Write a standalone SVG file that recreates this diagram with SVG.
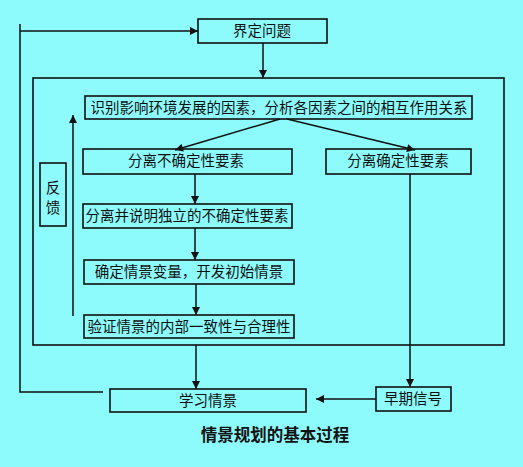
<svg xmlns="http://www.w3.org/2000/svg" width="523" height="467" viewBox="0 0 523 467">
<style>
.bx{fill:none;stroke:#111;stroke-width:1.6}
.t{font-family:"Noto Sans CJK SC","Noto Sans CJK JP",sans-serif;font-size:14.5px;fill:#111;text-anchor:middle}
.ln{fill:none;stroke:#111;stroke-width:1.5}
</style>
<defs>
<marker id="ah" viewBox="0 0 10 10" refX="10" refY="5" markerWidth="11" markerHeight="8" markerUnits="userSpaceOnUse" orient="auto">
<path d="M0,0 L10,5 L0,10 Z" fill="#111"/>
</marker>
</defs>
<rect width="523" height="467" fill="#8dfbfb"/>
<g id="outer"><rect class="bx" x="33" y="78" width="471" height="267"/></g>
<g id="n1"><rect class="bx" x="198" y="19" width="129" height="24"/><text class="t" x="262" y="36">界定问题</text></g>
<g id="n2"><rect class="bx" x="85" y="96" width="387" height="23"/><text class="t" x="279" y="113">识别影响环境发展的因素，分析各因素之间的相互作用关系</text></g>
<g id="n3"><rect class="bx" x="83" y="149" width="209" height="25"/><text class="t" x="186" y="166">分离不确定性要素</text></g>
<g id="n4"><rect class="bx" x="326" y="149" width="145" height="25"/><text class="t" x="398" y="166">分离确定性要素</text></g>
<g id="n5"><rect class="bx" x="83" y="204" width="209" height="24"/><text class="t" x="187" y="221">分离并说明独立的不确定性要素</text></g>
<g id="n6"><rect class="bx" x="84" y="260" width="210" height="24"/><text class="t" x="189" y="277">确定情景变量，开发初始情景</text></g>
<g id="n7"><rect class="bx" x="84" y="315" width="210" height="23"/><text class="t" x="189" y="332">验证情景的内部一致性与合理性</text></g>
<g id="n8"><rect class="bx" x="40" y="163" width="26" height="63"/><text class="t" x="53" y="193">反</text><text class="t" x="53" y="213">馈</text></g>
<g id="n9"><rect class="bx" x="110" y="389" width="196" height="23"/><text class="t" x="208" y="406">学习情景</text></g>
<g id="n10"><rect class="bx" x="376" y="387" width="75" height="24"/><text class="t" x="413" y="404">早期信号</text></g>
<g id="connectors">
<line class="ln" x1="263" y1="43" x2="263" y2="78" marker-end="url(#ah)"/>
<line class="ln" x1="280" y1="119" x2="175" y2="150" marker-end="url(#ah)"/>
<line class="ln" x1="287" y1="119" x2="415" y2="150" marker-end="url(#ah)"/>
<line class="ln" x1="195" y1="174" x2="195" y2="204" marker-end="url(#ah)"/>
<line class="ln" x1="195" y1="228" x2="195" y2="260" marker-end="url(#ah)"/>
<line class="ln" x1="196" y1="284" x2="196" y2="315" marker-end="url(#ah)"/>
<line class="ln" x1="73" y1="316" x2="73" y2="115" marker-end="url(#ah)"/>
<line class="ln" x1="196" y1="345" x2="196" y2="389" marker-end="url(#ah)"/>
<line class="ln" x1="410" y1="174" x2="410" y2="387" marker-end="url(#ah)"/>
<line class="ln" x1="376" y1="399" x2="316" y2="399" marker-end="url(#ah)"/>
<polyline class="ln" points="103,392 20,392 20,24"/>
<line class="ln" x1="20" y1="31" x2="198" y2="31" marker-end="url(#ah)"/>
</g>
<text x="275" y="441" style="font-family:'Noto Sans CJK SC',sans-serif;font-size:16.5px;font-weight:bold;fill:#111;text-anchor:middle">情景规划的基本过程</text>
</svg>
